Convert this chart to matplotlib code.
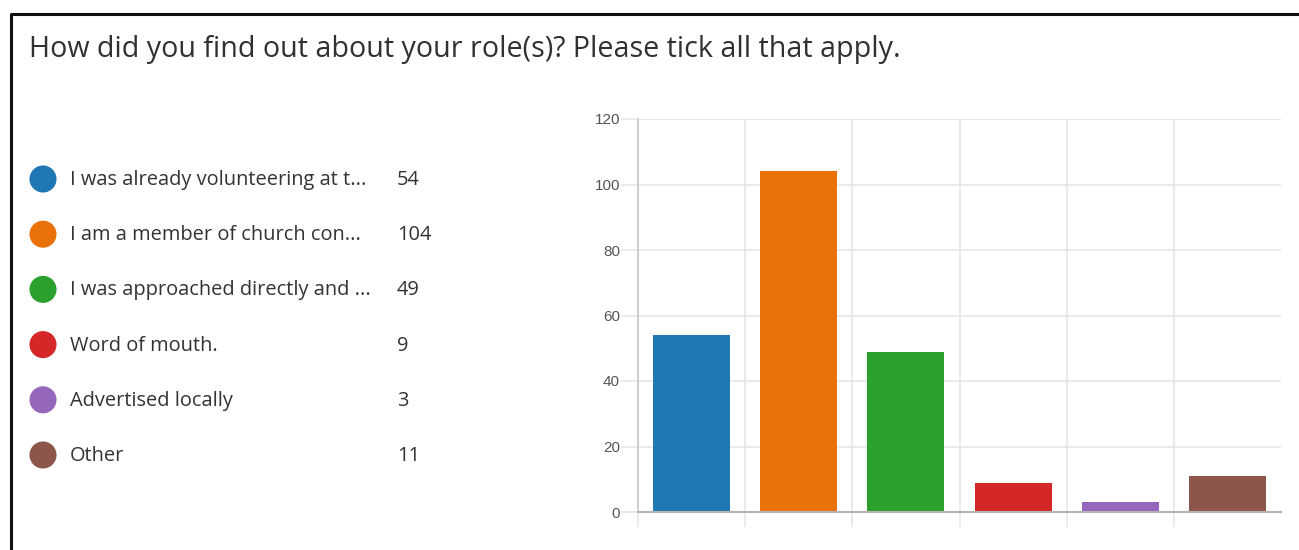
import numpy as np
import matplotlib.pyplot as plt
from matplotlib.ticker import FixedLocator

# survey answers (labels are truncated as in the form summary)
labels = [
    "I was already volunteering at t...",
    "I am a member of church con...",
    "I was approached directly and ...",
    "Word of mouth.",
    "Advertised locally",
    "Other",
]
counts = [54, 104, 49, 9, 3, 11]
colors = ["#1f77b4", "#ea7108", "#2ca02c", "#d62728", "#9467bd", "#8c564b"]
title = "How did you find out about your role(s)? Please tick all that apply."
yticks = [0, 20, 40, 60, 80, 100, 120]

W, H = 1299, 550
fig = plt.figure(figsize=(W / 100, H / 100), dpi=100)
fig.patch.set_facecolor("white")

# overlay axes in pixel coordinates for frame, title and legend
ov = fig.add_axes([0, 0, 1, 1])
ov.set_xlim(0, W)
ov.set_ylim(H, 0)
ov.axis("off")

ov.plot([11.5, 11.5, W + 5], [H + 5, 13.5, 13.5], color="#111111", lw=2.2,
        solid_capstyle="butt", clip_on=False)
ov.text(29, 50, title, fontsize=20.6, family="Open Sans", color="#323130",
        va="center", ha="left")

for i, (lab, n, c) in enumerate(zip(labels, counts, colors)):
    y = 179 + i * 55.2
    ov.scatter([43], [y], s=380, color=c, edgecolors="none")
    ov.text(70, y + 1, lab, fontsize=14.4, family="Open Sans", color="#333333",
            va="center", ha="left")
    ov.text(397, y + 1, str(n), fontsize=14.4, family="Open Sans", color="#333333",
            va="center", ha="left")

# bar chart
ax = fig.add_axes([638 / W, (H - 512) / H, 643 / W, (512 - 119) / H])
x = np.arange(len(counts))
ax.bar(x, counts, width=0.72, color=colors, zorder=3)
ax.set_xlim(-0.5, len(counts) - 0.5)
ax.set_ylim(0, 120)

ax.set_yticks(yticks)
ax.yaxis.grid(True, color="#e6e6e6", lw=1.2, zorder=0)
ax.tick_params(axis="y", length=12, color="#e6e6e6", width=1.2,
               labelsize=11, labelcolor="#555555", pad=1)
for t in ax.get_yticklabels():
    t.set_family("Liberation Sans")

ax.set_xticks([])
ax.xaxis.set_minor_locator(FixedLocator(np.arange(-0.5, len(counts) - 0.5, 1)))
ax.xaxis.grid(True, which="minor", color="#e6e6e6", lw=1.2, zorder=0)
ax.tick_params(axis="x", which="minor", length=11, color="#e6e6e6", width=1.2)
ax.xaxis.get_minor_ticks()[0].tick1line.set_color("#c8c8c8")

for s in ["top", "right"]:
    ax.spines[s].set_visible(False)
ax.spines["left"].set_color("#c8c8c8")
ax.spines["bottom"].set_color("#b4b4b4")
ax.spines["left"].set_linewidth(1.2)
ax.spines["bottom"].set_linewidth(1.5)
ax.spines["bottom"].set_zorder(4)
ax.set_facecolor("none")

fig.savefig("out.png", dpi=100)
